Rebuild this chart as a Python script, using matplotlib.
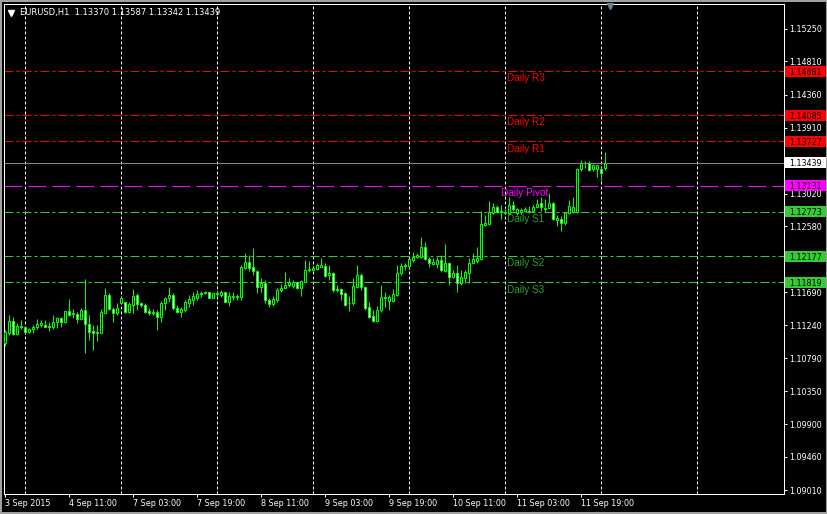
import matplotlib
matplotlib.use('Agg')
import matplotlib.pyplot as plt
import numpy as np
from matplotlib.patches import Rectangle
from matplotlib.lines import Line2D

W, H, DPI = 828, 514, 100
PX = 72 / DPI  # one pixel in points

# ---------------- data (EURUSD H1) ----------------
opens = [1.10996, 1.11131, 1.11298, 1.11122, 1.11230, 1.11212, 1.11149, 1.11185, 1.11212, 1.11239,
         1.11244, 1.11235, 1.11212, 1.11289, 1.11334, 1.11289, 1.11433, 1.11388, 1.11393, 1.11321,
         1.11447, 1.11253, 1.11158, 1.11131, 1.11140, 1.11411, 1.11650, 1.11456, 1.11402, 1.11546,
         1.11551, 1.11424, 1.11514, 1.11650, 1.11537, 1.11510, 1.11433, 1.11402, 1.11420, 1.11356,
         1.11537, 1.11604, 1.11649, 1.11469, 1.11424, 1.11447, 1.11537, 1.11582, 1.11613, 1.11667,
         1.11672, 1.11686, 1.11613, 1.11659, 1.11649, 1.11686, 1.11559, 1.11618, 1.11618, 1.11627,
         1.12019, 1.12100, 1.12033, 1.11974, 1.11762, 1.11807, 1.11582, 1.11523, 1.11582, 1.11717,
         1.11749, 1.11785, 1.11776, 1.11821, 1.11740, 1.11830, 1.11983, 1.11988, 1.12001, 1.12033,
         1.12042, 1.11920, 1.11943, 1.11726, 1.11726, 1.11672, 1.11537, 1.11537, 1.11762, 1.11920,
         1.11753, 1.11483, 1.11365, 1.11302, 1.11447, 1.11627, 1.11568, 1.11573, 1.11650, 1.11943,
         1.12042, 1.12046, 1.12123, 1.12168, 1.12159, 1.12294, 1.12132, 1.12069, 1.12069, 1.12123,
         1.11979, 1.12078, 1.11898, 1.11943, 1.11807, 1.11875, 1.11943, 1.12088, 1.12115, 1.12133,
         1.12598, 1.12611, 1.12765, 1.12837, 1.12769, 1.12765, 1.12756, 1.12869, 1.12765, 1.12778,
         1.12792, 1.12778, 1.12792, 1.12846, 1.12891, 1.12819, 1.12832, 1.12891, 1.12666, 1.12675,
         1.12620, 1.12765, 1.12778, 1.12778, 1.13351, 1.13432, 1.13441, 1.13351, 1.13360, 1.13360,
         1.13370]
highs = [1.11176, 1.11379, 1.11348, 1.11266, 1.11311, 1.11221, 1.11199, 1.11244, 1.11321, 1.11311,
         1.11311, 1.11289, 1.11379, 1.11357, 1.11357, 1.11433, 1.11591, 1.11456, 1.11424, 1.11469,
         1.11866, 1.11379, 1.11244, 1.11244, 1.11456, 1.11740, 1.11672, 1.11492, 1.11537, 1.11627,
         1.11560, 1.11560, 1.11731, 1.11672, 1.11551, 1.11537, 1.11469, 1.11456, 1.11447, 1.11568,
         1.11627, 1.11753, 1.11672, 1.11514, 1.11492, 1.11582, 1.11649, 1.11695, 1.11717, 1.11704,
         1.11704, 1.11695, 1.11695, 1.11695, 1.11717, 1.11695, 1.11695, 1.11695, 1.11658, 1.12055,
         1.12213, 1.12191, 1.12281, 1.11988, 1.11875, 1.11852, 1.11604, 1.11640, 1.11749, 1.11794,
         1.11965, 1.11875, 1.11852, 1.11830, 1.11852, 1.12123, 1.12110, 1.12033, 1.12078, 1.12155,
         1.12078, 1.12055, 1.11965, 1.11785, 1.11740, 1.11695, 1.11636, 1.11875, 1.12055, 1.11952,
         1.11771, 1.11559, 1.11447, 1.11501, 1.11785, 1.11695, 1.11649, 1.11726, 1.12055, 1.12078,
         1.12078, 1.12155, 1.12236, 1.12213, 1.12439, 1.12371, 1.12159, 1.12146, 1.12159, 1.12191,
         1.12340, 1.12101, 1.11988, 1.12055, 1.11988, 1.11988, 1.12146, 1.12215, 1.12296, 1.12792,
         1.12733, 1.12923, 1.12900, 1.12869, 1.12869, 1.12823, 1.12981, 1.12923, 1.12832, 1.12823,
         1.12846, 1.12855, 1.12869, 1.12945, 1.12981, 1.12945, 1.13026, 1.12914, 1.12733, 1.12720,
         1.12778, 1.12936, 1.12972, 1.13365, 1.13477, 1.13468, 1.13468, 1.13423, 1.13414, 1.13378,
         1.13587]
lows = [1.10960, 1.11109, 1.11109, 1.11109, 1.11185, 1.11131, 1.11140, 1.11131, 1.11185, 1.11221,
        1.11212, 1.11167, 1.11185, 1.11199, 1.11221, 1.11266, 1.11370, 1.11334, 1.11266, 1.11311,
        1.10869, 1.11041, 1.10906, 1.11032, 1.11131, 1.11402, 1.11447, 1.11289, 1.11379, 1.11537,
        1.11402, 1.11411, 1.11402, 1.11447, 1.11483, 1.11402, 1.11379, 1.11379, 1.11176, 1.11280,
        1.11447, 1.11559, 1.11447, 1.11401, 1.11356, 1.11424, 1.11492, 1.11514, 1.11582, 1.11627,
        1.11663, 1.11604, 1.11604, 1.11627, 1.11627, 1.11550, 1.11505, 1.11582, 1.11582, 1.11582,
        1.12001, 1.11974, 1.11920, 1.11672, 1.11695, 1.11537, 1.11492, 1.11501, 1.11559, 1.11695,
        1.11740, 1.11762, 1.11740, 1.11731, 1.11640, 1.11821, 1.11965, 1.11974, 1.11988, 1.12024,
        1.11898, 1.11852, 1.11695, 1.11695, 1.11582, 1.11501, 1.11438, 1.11514, 1.11740, 1.11717,
        1.11447, 1.11334, 1.11289, 1.11289, 1.11424, 1.11492, 1.11447, 1.11559, 1.11636, 1.11920,
        1.11988, 1.12010, 1.12101, 1.12146, 1.12146, 1.12123, 1.12033, 1.12055, 1.12010, 1.11965,
        1.11965, 1.11785, 1.11875, 1.11695, 1.11785, 1.11807, 1.11807, 1.12079, 1.12079, 1.12124,
        1.12584, 1.12598, 1.12747, 1.12756, 1.12675, 1.12747, 1.12733, 1.12792, 1.12733, 1.12747,
        1.12778, 1.12756, 1.12778, 1.12823, 1.12792, 1.12778, 1.12823, 1.12666, 1.12584, 1.12521,
        1.12598, 1.12747, 1.12756, 1.12765, 1.13333, 1.13365, 1.13333, 1.13333, 1.13252, 1.13207,
        1.13342]
closes = [1.11154, 1.11298, 1.11122, 1.11230, 1.11212, 1.11149, 1.11190, 1.11221, 1.11257, 1.11275,
          1.11221, 1.11212, 1.11289, 1.11334, 1.11289, 1.11433, 1.11379, 1.11402, 1.11325, 1.11447,
          1.11253, 1.11154, 1.11131, 1.11154, 1.11424, 1.11650, 1.11456, 1.11411, 1.11469, 1.11614,
          1.11424, 1.11528, 1.11636, 1.11523, 1.11510, 1.11424, 1.11402, 1.11424, 1.11357, 1.11537,
          1.11613, 1.11649, 1.11469, 1.11424, 1.11460, 1.11550, 1.11595, 1.11636, 1.11658, 1.11681,
          1.11686, 1.11613, 1.11672, 1.11672, 1.11686, 1.11559, 1.11636, 1.11640, 1.11636, 1.12024,
          1.12091, 1.12019, 1.11974, 1.11762, 1.11807, 1.11582, 1.11523, 1.11595, 1.11717, 1.11749,
          1.11785, 1.11821, 1.11821, 1.11740, 1.11839, 1.11988, 1.12001, 1.12019, 1.12060, 1.12055,
          1.11911, 1.11952, 1.11717, 1.11717, 1.11663, 1.11514, 1.11546, 1.11771, 1.11920, 1.11753,
          1.11469, 1.11356, 1.11302, 1.11447, 1.11627, 1.11613, 1.11627, 1.11663, 1.11943, 1.12046,
          1.12060, 1.12137, 1.12159, 1.12186, 1.12294, 1.12132, 1.12087, 1.12101, 1.12123, 1.11988,
          1.12078, 1.11898, 1.11952, 1.11807, 1.11898, 1.11965, 1.12087, 1.12133, 1.12147, 1.12611,
          1.12630, 1.12778, 1.12837, 1.12778, 1.12787, 1.12778, 1.12869, 1.12810, 1.12814, 1.12801,
          1.12810, 1.12792, 1.12846, 1.12882, 1.12837, 1.12832, 1.12891, 1.12675, 1.12688, 1.12630,
          1.12765, 1.12855, 1.12846, 1.13351, 1.13432, 1.13441, 1.13342, 1.13405, 1.13405, 1.13297,
          1.13439]

date_labels = ['3 Sep 2015', '4 Sep 11:00', '7 Sep 03:00', '7 Sep 19:00', '8 Sep 11:00',
               '9 Sep 03:00', '9 Sep 19:00', '10 Sep 11:00', '11 Sep 03:00', '11 Sep 19:00']
price_ticks = [1.15250, 1.14810, 1.14360, 1.13910, 1.13020, 1.12580,
               1.11690, 1.11240, 1.10790, 1.10350, 1.09900, 1.09460, 1.09010]
level_names = ['Daily R3', 'Daily R2', 'Daily R1', 'Daily Pivot', 'Daily S1', 'Daily S2', 'Daily S3']
level_values = [1.14681, 1.14085, 1.13727, 1.13131, 1.12773, 1.12177, 1.11819]
last_price = 1.13439
title = 'EURUSD,H1  1.13370 1.13587 1.13342 1.13439'

# ---------------- styles ----------------
GREEN = '#00ff00'
LVL_GREEN = '#32cd32'
line_colors = ['#ff0000', '#ff0000', '#ff0000', '#ff00ff', LVL_GREEN, LVL_GREEN, LVL_GREEN]
text_colors = ['#ff0000', '#ff0000', '#ff0000', '#ff00ff', '#2e9e2e', '#2e9e2e', '#2e9e2e']
box_colors = ['#ff0000', '#ff0000', '#ff0000', '#ff00ff', LVL_GREEN, LVL_GREEN, LVL_GREEN]
DASHDOT = (0, (9, 3, 3, 3))
DASH = (0, (18, 6))

fig = plt.figure(figsize=(W / DPI, H / DPI), dpi=DPI, facecolor='black')
ax = fig.add_axes([4 / W, 20 / H, 780 / W, 490 / H])
ax.set_facecolor('black')

o = np.array(opens); hi = np.array(highs); lo = np.array(lows); c = np.array(closes)
n = len(c)
x = np.arange(n)

ax.set_xlim(-0.325, 194.675)
ax.set_ylim(1.08956, 1.15588)

# vertical grid (day separators every 24 bars)
for g in range(5, 195, 24):
    ax.axvline(g, color='white', lw=PX, ls=(0, (3, 2)), zorder=1)

# pivot level lines
for name, val, lc, tc in zip(level_names, level_values, line_colors, text_colors):
    ls = DASH if name == 'Daily Pivot' else DASHDOT
    ax.axhline(val, color=lc, lw=PX, ls=ls, zorder=2)
    xt = 123.9 if name == 'Daily Pivot' else 125.35
    ax.annotate(name, xy=(xt, val), xytext=(0, -1.5), textcoords='offset points',
                va='top', ha='left', color=tc, fontsize=7.2, family='Liberation Sans', zorder=6)

# current price line
ax.axhline(last_price, color='#778899', lw=PX, zorder=2)

# candles
ax.vlines(x, lo, hi, color=GREEN, lw=PX, zorder=3)
up = c >= o
fills = np.where(up, 'black', 'white')
ax.bar(x, np.abs(c - o), bottom=np.minimum(o, c), width=0.5, color=fills,
       edgecolor=GREEN, linewidth=PX, zorder=4)

# axes styling
for s in ax.spines.values():
    s.set_color('white')
    s.set_linewidth(PX)
ax.yaxis.tick_right()
ax.set_yticks(price_ticks)
ax.set_yticklabels([f'{p:.5f}' for p in price_ticks])
ax.set_xticks(x[::16])
ax.set_xticklabels(date_labels)
for lab in ax.get_xticklabels():
    lab.set_horizontalalignment('left')
ax.tick_params(axis='y', colors='white', length=3 * PX, width=PX, pad=2 * PX, labelsize=5.8)
ax.tick_params(axis='x', colors='white', length=3 * PX, width=PX, pad=2 * PX, labelsize=5.8)

# right-hand price boxes
box_vals = level_values + [last_price]
box_cols = box_colors + ['#ffffff']
for val, col in zip(box_vals, box_cols):
    ypix = ax.transData.transform((0, val))[1]
    fig.add_artist(Rectangle((785 / W, (ypix - 5.5) / H), 41 / W, 11 / H,
                             transform=fig.transFigure, fc=col, ec='none', zorder=5))
    fig.text(789 / W, ypix / H, f'{val:.5f}', va='center_baseline', ha='left',
             color='black', fontsize=5.8, zorder=6)

# title + markers
fig.text(20 / W, 1 - 13 / H, title, color='white', fontsize=6, va='center', ha='left')
fig.add_artist(Line2D([11 / W], [1 - 12.5 / H], marker='v', markersize=4.5, color='white',
                      linestyle='none', transform=fig.transFigure))
fig.add_artist(Line2D([610 / W], [1 - 6 / H], marker='v', markersize=5, color='#708090',
                      linestyle='none', transform=fig.transFigure))

# window frame
fig.add_artist(Rectangle((0, 0), 1, 1, transform=fig.transFigure, fill=False,
                         ec='#a0a0a0', lw=4 * PX, zorder=10))

fig.savefig('out.png', dpi=DPI, facecolor='black')
